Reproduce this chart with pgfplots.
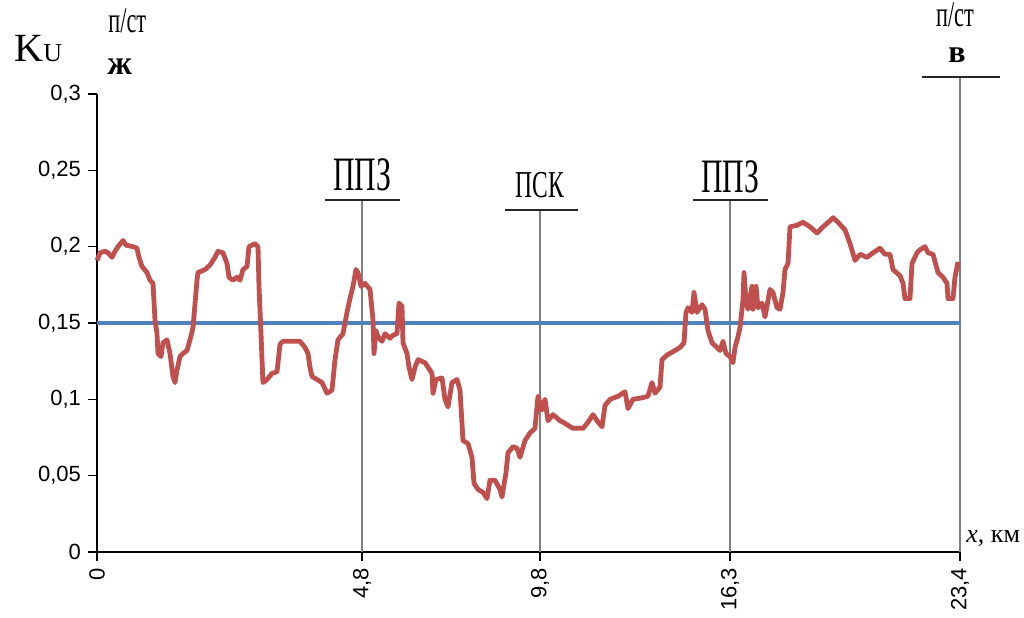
\documentclass[border=0pt]{standalone}
\usepackage{pgfplots}
\pgfplotsset{compat=1.18}
\usepackage{fontspec}
\setmainfont{Liberation Serif}
\newfontfamily\arial{Liberation Sans}
\definecolor{cred}{HTML}{C0504D}
\definecolor{cblue}{HTML}{4F81BD}
\definecolor{vgray}{HTML}{7F7F7F}
\begin{document}
\begin{tikzpicture}
\useasboundingbox (0,0) rectangle (512pt,308.5pt);
\begin{axis}[
  at={(48.5pt,32.5pt)}, anchor=south west,
  scale only axis, width=431.5pt, height=229pt,
  xmin=0, xmax=863, ymin=0, ymax=0.3,
  clip=false,
  axis x line*=bottom, axis y line*=left,
  axis line style={black, line width=0.8pt, -},
  xtick={0,265,443,633,863},
  xticklabels={0,{4,8},{9,8},{16,3},{23,4}},
  ytick={0,0.05,0.1,0.15,0.2,0.25,0.3},
  yticklabels={0,{0,05},{0,1},{0,15},{0,2},{0,25},{0,3}},
  tick align=outside, major tick length=4.5pt,
  tick style={black, line width=0.8pt},
  xticklabel style={font=\arial\fontsize{11}{11}\selectfont, rotate=90, anchor=east},
  yticklabel style={font=\arial\fontsize{11}{11}\selectfont},
]
% vertical markers
\draw[vgray, line width=1.4pt] (axis cs:265,0) -- (axis cs:265,0.2306);
\draw[vgray, line width=1.4pt] (axis cs:443,0) -- (axis cs:443,0.2240);
\draw[vgray, line width=1.4pt] (axis cs:633,0) -- (axis cs:633,0.2303);
\draw[vgray, line width=1.4pt] (axis cs:863,0) -- (axis cs:863,0.3111);
\draw[black!85, line width=1pt] (axis cs:228,0.2306) -- (axis cs:303,0.2306);
\draw[black!85, line width=1pt] (axis cs:408,0.2240) -- (axis cs:481,0.2240);
\draw[black!85, line width=1pt] (axis cs:596,0.2303) -- (axis cs:671,0.2303);
\draw[black!85, line width=1pt] (axis cs:825,0.3111) -- (axis cs:903,0.3111);
\node[anchor=base, inner sep=0pt] at (axis cs:265,0.2371) {\scalebox{0.62}[1]{\fontsize{24}{24}\selectfont ППЗ}};
\node[anchor=base, inner sep=0pt] at (axis cs:443,0.2325) {\scalebox{0.62}[1]{\fontsize{19}{19}\selectfont ПСК}};
\node[anchor=base, inner sep=0pt] at (axis cs:633,0.2358) {\scalebox{0.62}[1]{\fontsize{24}{24}\selectfont ППЗ}};
\node[anchor=base, inner sep=0pt] at (axis cs:858,0.3445) {\scalebox{0.62}[1]{\fontsize{18}{18}\selectfont п/ст}};
\node[anchor=base, inner sep=0pt] at (axis cs:860,0.3205) {\fontsize{16}{16}\selectfont\bfseries в};
\node[anchor=base west, inner sep=0pt] at (axis cs:-83,0.321) {\fontsize{20}{20}\selectfont K\fontsize{13}{13}\selectfont U};
\node[anchor=base west, inner sep=0pt] at (axis cs:11,0.3405) {\scalebox{0.62}[1]{\fontsize{18}{18}\selectfont п/ст}};
\node[anchor=base west, inner sep=0pt] at (axis cs:10,0.3125) {\fontsize{17}{17}\selectfont\bfseries ж};
\node[anchor=base west, inner sep=0pt] at (axis cs:869,0.0065) {\fontsize{13}{13}\selectfont\textit{x}, км};
% threshold
\addplot[cblue, line width=2.4pt, forget plot] coordinates {(0,0.15) (863,0.15)};
% Ku curve
\addplot[cred, line width=2.4pt, line join=round] coordinates {
(0,0.191) (3,0.196) (8,0.197) (11,0.196) (15,0.193) (18,0.197) (21,0.200) (26,0.204)
(29,0.201) (36,0.200) (40,0.199) (42,0.193) (45,0.187) (50,0.183) (53,0.178) (56,0.176)
(58,0.152) (60,0.143) (61,0.130) (64,0.128) (66,0.137) (70,0.139) (73,0.130) (76,0.115)
(78,0.111) (80,0.119) (83,0.128) (86,0.130) (90,0.132) (93,0.139) (96,0.147) (100,0.178)
(101,0.183) (108,0.185) (113,0.188) (118,0.193) (121,0.197) (126,0.196) (130,0.189) (132,0.180)
(136,0.178) (140,0.180) (143,0.178) (146,0.185) (150,0.187) (152,0.200) (158,0.202) (161,0.200)
(162,0.174) (164,0.143) (165,0.126) (166,0.111) (170,0.113) (175,0.117) (180,0.118) (183,0.136)
(186,0.138) (196,0.138) (203,0.138) (208,0.134) (211,0.130) (213,0.121) (215,0.115) (220,0.113)
(225,0.111) (230,0.104) (235,0.106) (238,0.126) (241,0.139) (246,0.143) (250,0.157) (253,0.166)
(256,0.174) (259,0.185) (261,0.183) (264,0.174) (268,0.176) (273,0.172) (276,0.152) (277,0.130)
(279,0.145) (281,0.141) (285,0.138) (288,0.143) (293,0.140) (296,0.142) (300,0.143) (302,0.163)
(305,0.161) (306,0.137) (310,0.130) (312,0.121) (315,0.113) (318,0.121) (321,0.126) (328,0.124)
(335,0.117) (336,0.104) (339,0.113) (345,0.114) (348,0.100) (351,0.095) (355,0.111) (360,0.113)
(363,0.106) (366,0.073) (371,0.071) (375,0.062) (377,0.045) (381,0.041) (386,0.039) (390,0.035)
(393,0.047) (398,0.047) (403,0.041) (405,0.036) (409,0.052) (411,0.065) (416,0.069) (420,0.068)
(423,0.062) (428,0.073) (433,0.078) (438,0.081) (441,0.102) (445,0.093) (448,0.100) (451,0.086)
(456,0.090) (463,0.086) (466,0.085) (476,0.081) (486,0.081) (491,0.085) (496,0.090) (500,0.086)
(505,0.082) (508,0.096) (513,0.100) (521,0.102) (528,0.105) (531,0.094) (536,0.100) (545,0.101)
(551,0.102) (555,0.111) (558,0.104) (563,0.108) (565,0.126) (570,0.129) (578,0.132) (583,0.134)
(587,0.137) (589,0.157) (591,0.160) (595,0.157) (597,0.170) (600,0.157) (605,0.162) (608,0.159)
(611,0.145) (615,0.137) (620,0.134) (623,0.132) (626,0.138) (629,0.130) (633,0.128) (636,0.124)
(638,0.134) (641,0.141) (643,0.147) (646,0.165) (647,0.183) (649,0.165) (651,0.159) (655,0.174)
(656,0.159) (659,0.174) (661,0.160) (665,0.163) (668,0.154) (673,0.172) (676,0.170) (680,0.160)
(683,0.159) (686,0.170) (688,0.185) (691,0.189) (693,0.213) (700,0.214) (706,0.216) (713,0.213)
(720,0.209) (726,0.213) (733,0.217) (736,0.219) (741,0.216) (748,0.211) (753,0.202) (758,0.191)
(763,0.195) (770,0.193) (776,0.196) (783,0.199) (788,0.195) (793,0.195) (796,0.185) (803,0.181)
(806,0.176) (808,0.166) (813,0.166) (815,0.189) (820,0.196) (823,0.198) (828,0.200) (831,0.196)
(836,0.195) (841,0.183) (846,0.180) (850,0.176) (851,0.166) (856,0.166) (858,0.180) (861,0.190)
};
\end{axis}
\end{tikzpicture}
\end{document}
